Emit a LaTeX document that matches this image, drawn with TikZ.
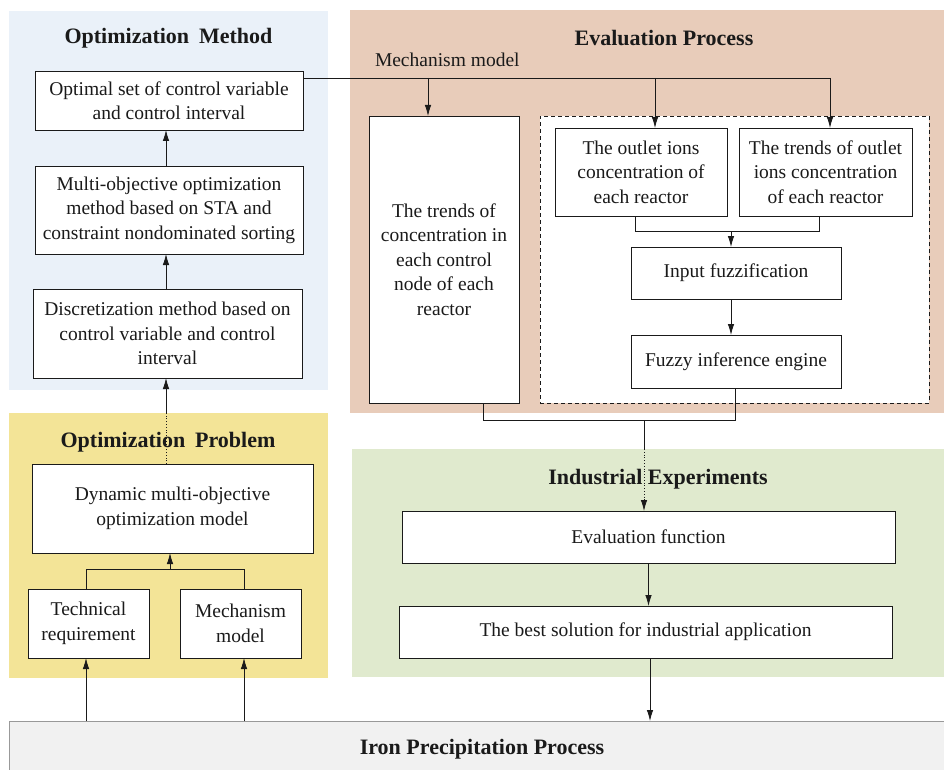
\documentclass[tikz,border=0pt]{standalone}
\usepackage{fontspec}
\setmainfont{Liberation Serif}
\usetikzlibrary{arrows.meta,calc}
\definecolor{omblue}{HTML}{EAF1F9}
\definecolor{opyellow}{HTML}{F3E497}
\definecolor{eppeach}{HTML}{E8CCBA}
\definecolor{iegreen}{HTML}{E0EACE}
\definecolor{irongrey}{HTML}{F1F1F1}
\definecolor{ink}{HTML}{1A1A1A}
\begin{document}
\begin{tikzpicture}[x=1pt,y=-1pt,
  every node/.style={inner sep=0pt,outer sep=0pt,text=ink,font=\fontsize{19.5}{24.5}\selectfont},
  panel/.style={draw=none,rectangle},
  box/.style={draw=ink,line width=0.8pt,fill=white,rectangle,align=center},
  ttl/.style={font=\fontsize{22}{26}\selectfont\bfseries},
  conn/.style={draw=ink,line width=0.8pt},
  arr/.style={conn,-{Latex[length=11pt,width=6.5pt]}},
  dot/.style={draw=ink,line width=0.8pt,dotted}]
\useasboundingbox (0,0) rectangle (944,770);
\clip (0,0) rectangle (944,770);

% panels
\node[panel,fill=omblue,minimum width=319pt,minimum height=379pt] (pOM) at (168.5,200.5) {};
\node[panel,fill=opyellow,minimum width=319pt,minimum height=265pt] (pOP) at (168.5,545.5) {};
\node[panel,fill=eppeach,minimum width=594pt,minimum height=403pt] (pEP) at (647,211.5) {};
\node[panel,fill=iegreen,minimum width=592pt,minimum height=228pt] (pIE) at (648,563) {};
\node[rectangle,draw=gray!80,line width=0.8pt,fill=irongrey,minimum width=961pt,minimum height=69pt] (iron) at (489.5,755.5) {};

% titles
\node[ttl] (tOM) at (168.5,38.5) {Optimization\hspace{0.45em}Method};
\node[ttl] (tOP) at (168,442.5) {Optimization\hspace{0.45em}Problem};
\node[ttl] (tEP) at (664,38.5) {Evaluation Process};
\node[ttl] (tIE) at (658,479.5) {Industrial Experiments};
\node[ttl] (tIR) at (482,749.5) {Iron Precipitation Process};
\node[anchor=west] (lMM) at (375,59.5) {Mechanism model};

% optimization method
\node[box,minimum width=268pt,minimum height=59pt] (b1) at (169,100.5) {Optimal set of control variable\\and control interval};
\node[box,minimum width=268pt,minimum height=88pt] (b2) at (169,210) {Multi-objective optimization\\method based on STA and\\constraint nondominated sorting};
\node[box,minimum width=269pt,minimum height=89pt] (b3) at (167.5,333.5) {Discretization method based on\\control variable and control\\interval};

% optimization problem
\node[box,minimum width=281pt,minimum height=89pt] (dyn) at (172.5,508.5) {Dynamic multi-objective\\optimization model};
\node[box,minimum width=121pt,minimum height=69pt] (tech) at (88.5,623.5) {Technical\\requirement};
\node[box,minimum width=121pt,minimum height=69pt] (mech) at (240.5,623.5) {Mechanism\\model};

% evaluation process
\node[box,minimum width=150pt,minimum height=287pt] (big) at (444,259.5) {The trends of\\concentration in\\each control\\node of each\\reactor};
\node[rectangle,draw=ink,line width=0.8pt,dash pattern=on 4pt off 3pt,fill=white,minimum width=389pt,minimum height=287pt] (dash) at (734.5,259.5) {};
\node[box,minimum width=172pt,minimum height=88pt] (out) at (641,172) {The outlet ions\\concentration of\\each reactor};
\node[box,minimum width=173pt,minimum height=88pt] (tro) at (825.5,172) {The trends of outlet\\ions concentration\\of each reactor};
\node[box,minimum width=210pt,minimum height=52pt] (fz) at (736,273) {Input fuzzification};
\node[box,minimum width=210pt,minimum height=53pt] (inf) at (736,361.5) {Fuzzy inference engine};

% industrial experiments
\node[box,minimum width=493pt,minimum height=52pt] (ev) at (648.5,537) {Evaluation function};
\node[box,minimum width=493pt,minimum height=52pt] (best) at (645.5,632) {The best solution for industrial application};

% coordinates
\coordinate (j1) at (170,569);
\coordinate (m0) at (303,78);
\coordinate (m1) at (428,78);
\coordinate (m2) at (655,78);
\coordinate (m3) at (830,78);
\coordinate (j2l) at (635,231);
\coordinate (j2) at (731,231);
\coordinate (j2r) at (819,231);
\coordinate (j3l) at (483,420);
\coordinate (j3) at (644,420);
\coordinate (j3r) at (735,420);
\coordinate (ta) at (86,0);
\coordinate (ma) at (244,0);
\coordinate (da) at (166,0);
\coordinate (ba) at (650,0);

% connectors: optimization side
\draw[arr] (ta |- iron.north) -- (ta |- tech.south);
\draw[arr] (ma |- iron.north) -- (ma |- mech.south);
\draw[conn] (j1 -| ta) -- (ta |- tech.north);
\draw[conn] (j1 -| ma) -- (ma |- mech.north);
\draw[conn] (j1 -| ta) -- (j1 -| ma);
\draw[arr] (j1) -- (j1 |- dyn.south);
\draw[dot] (da |- dyn.north) -- (da |- pOP.north);
\draw[arr] (da |- pOP.north) -- (da |- b3.south);
\draw[arr] (da |- b3.north) -- (da |- b2.south);
\draw[arr] (da |- b2.north) -- (da |- b1.south);

% mechanism model line
\draw[conn] (m0 -| b1.east) -- (m3);
\draw[arr] (m1) -- (m1 |- big.north);
\draw[arr] (m2) -- (m2 |- out.north);
\draw[arr] (m3) -- (m3 |- tro.north);

% inside evaluation
\draw[conn] (j2l |- out.south) -- (j2l) -- (j2r) -- (j2r |- tro.south);
\draw[arr] (j2) -- (j2 |- fz.north);
\draw[arr] (j2 |- fz.south) -- (j2 |- inf.north);
\draw[conn] (j3l |- big.south) -- (j3l) -- (j3r) -- (j3r |- inf.south);

% to industrial experiments
\draw[conn] (j3) -- (j3 |- pIE.north);
\draw[dot,-{Latex[length=11pt,width=6.5pt]}] (j3 |- pIE.north) -- (j3 |- ev.north);
\draw[arr] (ev.south) -- (ev.south |- best.north);
\draw[arr] (ba |- best.south) -- (ba |- iron.north);
\end{tikzpicture}
\end{document}
